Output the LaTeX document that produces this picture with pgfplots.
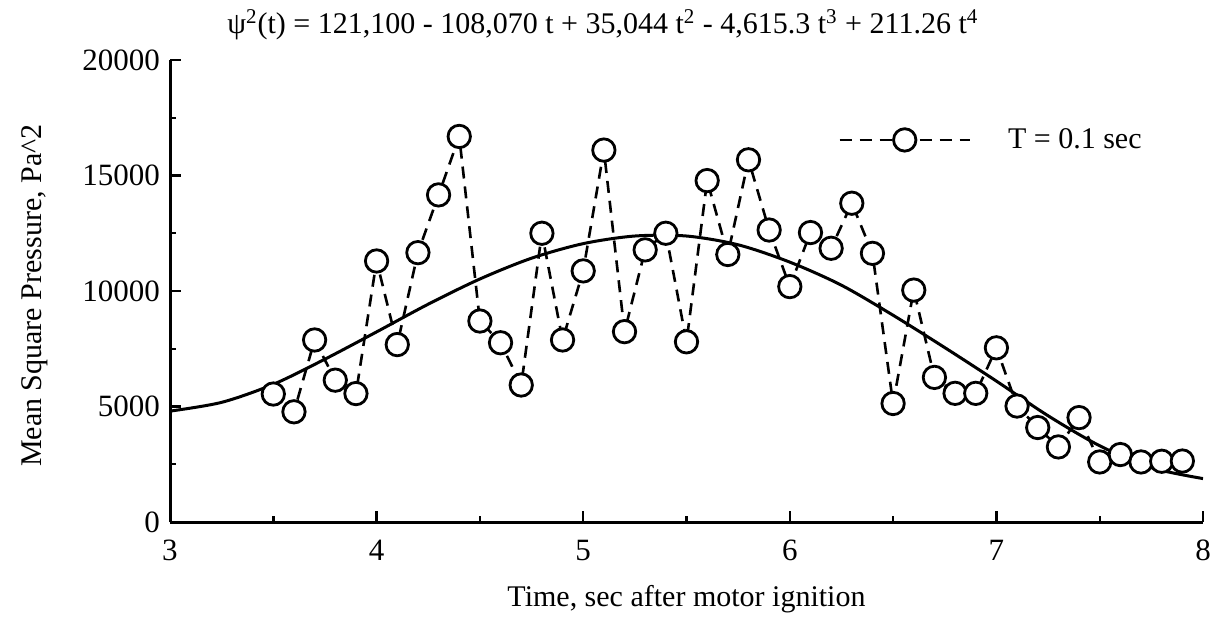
\documentclass[border=0pt]{standalone}
\usepackage{fontspec}
\setmainfont{Liberation Serif}
\usepackage{pgfplots}
\pgfplotsset{compat=1.18}

% measured T = 0.1 sec mean square values
\pgfplotstableread{
t v
3.5 5540
3.6 4770
3.7 7880
3.8 6140
3.9 5560
4.0 11300
4.1 7680
4.2 11660
4.3 14160
4.4 16690
4.5 8700
4.6 7760
4.7 5930
4.8 12500
4.9 7880
5.0 10870
5.1 16100
5.2 8240
5.3 11780
5.4 12500
5.5 7800
5.6 14780
5.7 11580
5.8 15680
5.9 12640
6.0 10190
6.1 12530
6.2 11850
6.3 13800
6.4 11630
6.5 5130
6.6 10040
6.7 6260
6.8 5570
6.9 5570
7.0 7540
7.1 5020
7.2 4090
7.3 3250
7.4 4520
7.5 2600
7.6 2920
7.7 2600
7.8 2630
7.9 2640
}\measured

% fitted polynomial
\pgfplotstableread{
t v
3.00 4800
3.25 5180
3.50 5960
3.75 7050
4.00 8230
4.25 9430
4.50 10520
4.75 11420
5.00 12050
5.25 12380
5.50 12380
5.75 12000
6.00 11250
6.25 10250
6.50 8950
6.75 7550
7.00 6100
7.25 4600
7.50 3300
7.75 2350
8.00 1880
}\fitted

\begin{document}
\begin{tikzpicture}[font=\fontsize{15}{18}\selectfont]
\useasboundingbox (-85pt,-49.5pt) rectangle (521.5pt,261pt);
\begin{axis}[
	scale only axis, width=516.5pt, height=231pt,
	xmin=3, xmax=8, ymin=0, ymax=20000,
	axis lines=left, axis line style={-, line width=1.5pt},
	xtick={3,4,5,6,7,8}, minor xtick={3.5,4.5,5.5,6.5,7.5},
	ytick={0,5000,10000,15000,20000}, minor ytick={2500,7500,12500,17500},
	scaled y ticks=false,
	/pgf/number format/1000 sep={},
	/pgf/number format/assume math mode=true,
	tick align=inside, major tick length=5.5pt, minor tick length=3pt,
	every tick/.style={black, line width=1.2pt},
	tick label style={font=\fontsize{15.5}{18}\selectfont},
	xticklabel style={anchor=base, yshift=-19pt},
	yticklabel style={xshift=-1.5pt},
	title={ψ\textsuperscript{2}(t) = 121,100 - 108,070 t + 35,044 t\textsuperscript{2} - 4,615.3 t\textsuperscript{3} + 211.26 t\textsuperscript{4}},
	title style={at={(0.419,1)}, anchor=base, yshift=7pt},
	xlabel={Time, sec after motor ignition},
	xlabel style={at={(0.5,0)}, anchor=base, yshift=-42pt},
	ylabel={Mean Square Pressure, Pa\textasciicircum 2},
	ylabel style={at={(0,0.49)}, anchor=center, yshift=67.5pt},
	legend style={at={(0.6467,0.827)}, anchor=west, draw=none, fill=none,
		inner sep=0pt, font=\fontsize{15}{18}\selectfont},
	legend image code/.code={
		\draw[#1, mark=none] (0pt,0pt) -- (65pt,0pt);
		\draw[#1, only marks] plot coordinates {(32.5pt,0pt)};
		\path (81.5pt,0pt);
	},
]
\addplot [black, line width=1.3pt, dash pattern=on 6pt off 4pt,
	mark=*, mark size=5.6pt,
	mark options={solid, draw=black, fill=white, line width=1.4pt}]
	table [x=t, y=v] {\measured};
\addlegendentry{T = 0.1 sec}
\addplot [black, line width=1.5pt, smooth, forget plot] table [x=t, y=v] {\fitted};
\end{axis}
\end{tikzpicture}
\end{document}
